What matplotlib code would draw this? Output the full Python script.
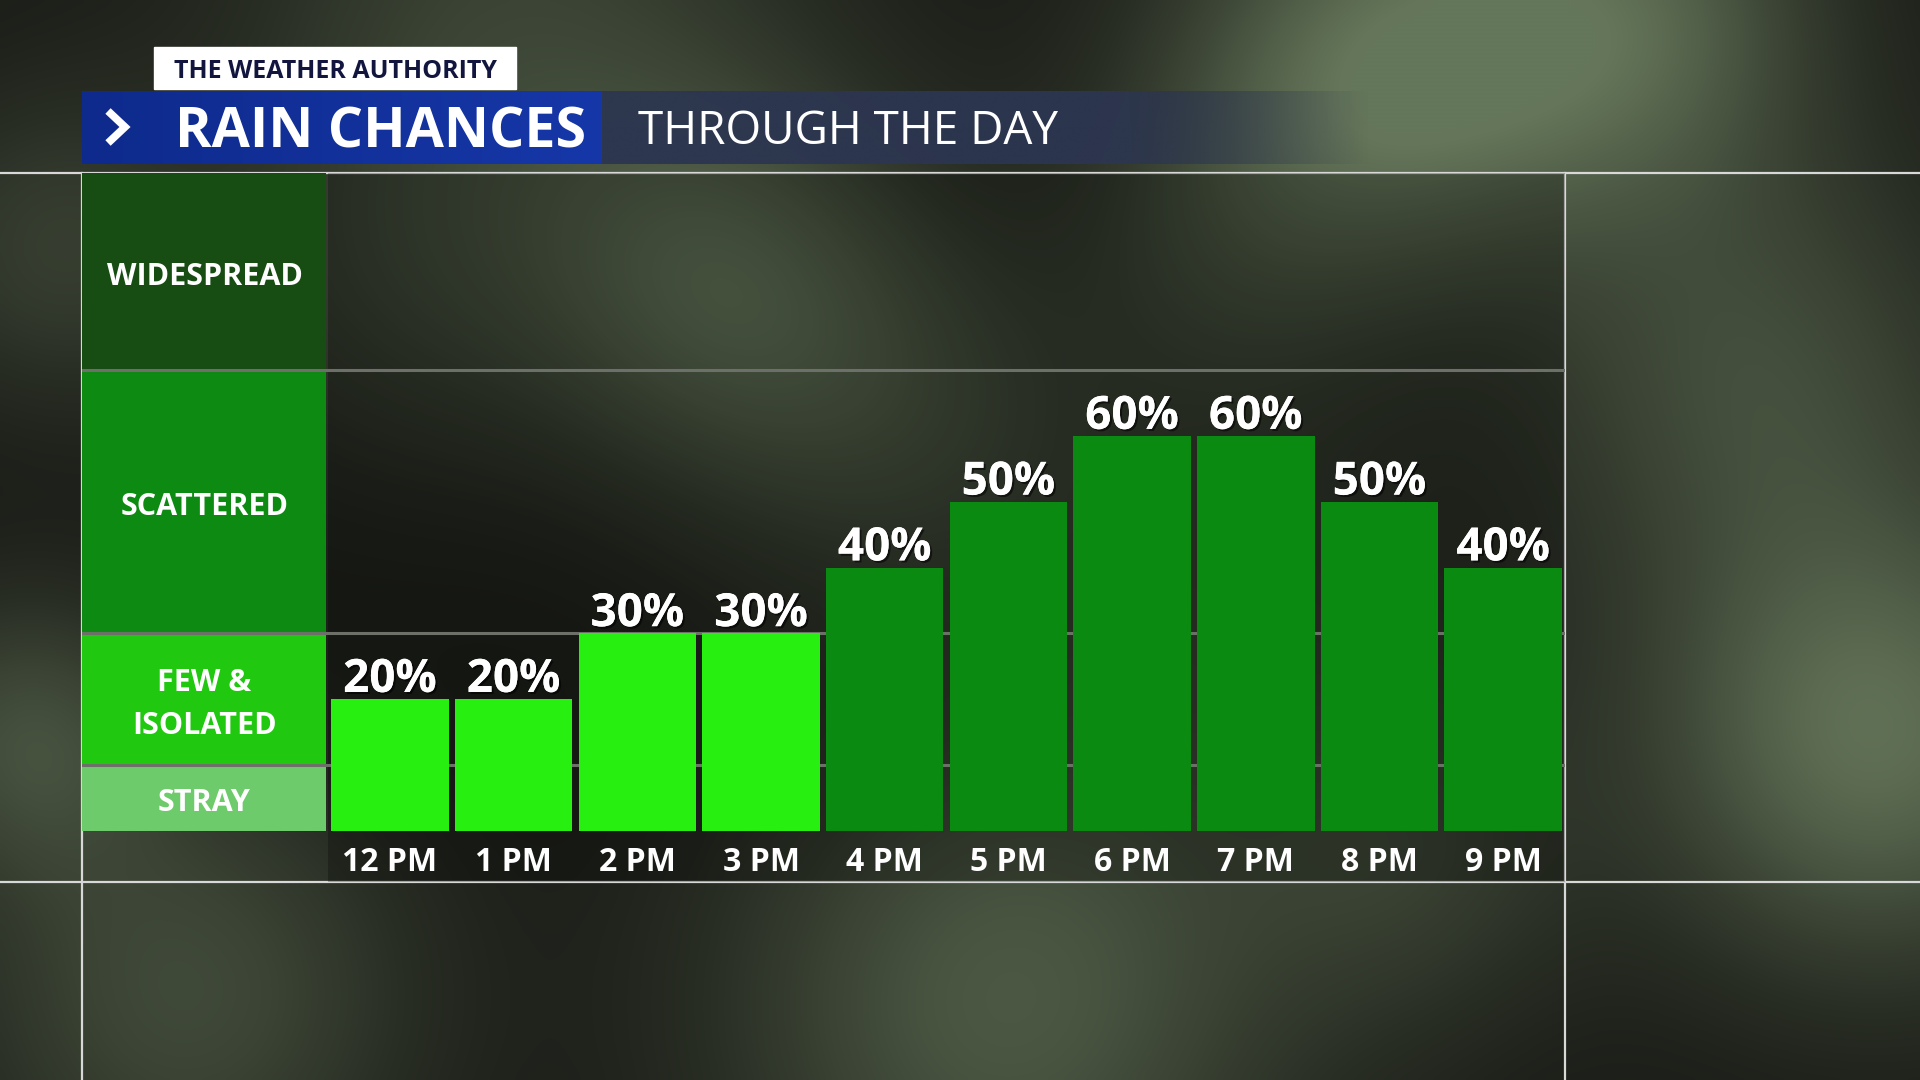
import numpy as np
import matplotlib
matplotlib.use("Agg")
import matplotlib.pyplot as plt
import matplotlib.patheffects as pe
from matplotlib.patches import Rectangle
from matplotlib.colors import to_rgb

plt.rcParams["font.family"] = ["Open Sans", "DejaVu Sans"]

# data
hours = ["12 PM", "1 PM", "2 PM", "3 PM", "4 PM", "5 PM", "6 PM", "7 PM", "8 PM", "9 PM"]
chances = [20, 20, 30, 30, 40, 50, 60, 60, 50, 40]

band_names = ["STRAY", "FEW &\nISOLATED", "SCATTERED", "WIDESPREAD"]
band_lo = [0, 10, 30, 70]
band_hi = [10, 30, 70, 100]
band_colors = ["#6ecb6b", "#20c80f", "#0d8a12", "#174c12"]
bar_bright = "#27f010"
bar_dark = "#0b8a12"

W, H = 1920, 1080
fig = plt.figure(figsize=(19.2, 10.8), dpi=100)

# ---- blurred photo-like background ----
bg = fig.add_axes([0, 0, 1, 1])
bg.set_axis_off()
gy, gx = np.mgrid[0:270, 0:480]
xx = gx / 480.0 * 1568
yy = gy / 270.0 * 882
light = np.zeros_like(xx, dtype=float)
blobs = [(1130, 60, 120, 0.9), (1330, 10, 110, 0.7), (580, 230, 110, 0.6),
         (720, 330, 120, 0.4), (1430, 300, 130, 0.5), (1530, 600, 130, 0.9),
         (820, 820, 160, 0.65), (150, 810, 130, 0.5), (20, 600, 80, 0.5),
         (420, 10, 160, 0.4), (1000, 480, 150, 0.25), (330, 240, 120, 0.25),
         (1150, 700, 100, 0.3), (40, 200, 90, 0.35), (1000, 200, 100, 0.25)]
for cx, cy, r, a in blobs:
    light += a * np.exp(-((xx - cx) ** 2 + (yy - cy) ** 2) / (2 * r ** 2))
light = np.clip(light, 0, 1)
dark = np.array(to_rgb("#1a1c17"))
lite = np.array(to_rgb("#65765a"))
img = dark[None, None, :] * (1 - light[..., None]) + lite[None, None, :] * light[..., None]
bg.imshow(img, extent=[0, W, H, 0], aspect="auto", interpolation="bicubic")
bg.set_xlim(0, W)
bg.set_ylim(H, 0)

# ---- header ----
bg.add_patch(Rectangle((154, 47), 362, 42, color="white", zorder=3))
bg.text(335, 78, "THE WEATHER AUTHORITY", color="#12163f", fontsize=18,
        fontweight="bold", ha="center", va="baseline", zorder=4)

grad = np.linspace(0, 1, 200)
blue = np.array(to_rgb("#0e2a8c"))[None, :] * (1 - grad[:, None]) + np.array(to_rgb("#1637a8"))[None, :] * grad[:, None]
bg.imshow(blue[None, :, :], extent=[82, 602, 164, 91], aspect="auto", zorder=3)
slate = np.zeros((1, 300, 4))
slate[..., :3] = to_rgb("#2c3650")
fade = np.ones(300)
fade[200:] = np.linspace(1, 0, 100)
slate[0, :, 3] = 0.95 * fade
bg.imshow(slate, extent=[602, 1370, 164, 91], aspect="auto", zorder=3)
bg.plot([108, 125, 108], [111, 127, 143], color="white", lw=5.5,
        solid_joinstyle="miter", solid_capstyle="butt", zorder=4)
bg.text(175, 148, "RAIN CHANCES", color="white", fontsize=40, fontweight="bold",
        ha="left", va="baseline", zorder=4)
bg.text(638, 144, "THROUGH THE DAY", color="white", fontsize=33,
        ha="left", va="baseline", zorder=4)

# frame lines
frame_c = "#d8d8d8"
bg.plot([0, W], [173, 173], color=frame_c, lw=1.6, zorder=2)
bg.plot([0, W], [882, 882], color=frame_c, lw=1.6, zorder=2)
bg.plot([82, 82], [173, H], color=frame_c, lw=1.6, zorder=2)
bg.plot([1565, 1565], [173, H], color=frame_c, lw=1.6, zorder=2)

# ---- chart ----
ax = fig.add_axes([82 / W, (H - 882) / H, (1565 - 82) / W, (882 - 173) / H])
ax.set_facecolor("none")
ax.set_xlim(-1.99, 10)
ax.set_ylim(-7.8, 100)
ax.set_axis_off()

ax.add_patch(Rectangle((0, -7.8), 10, 107.8, color="black", alpha=0.25, lw=0, zorder=0))

for name, lo, hi, c in zip(band_names, band_lo, band_hi, band_colors):
    ax.add_patch(Rectangle((-1.99, lo), 1.97, hi - lo, color=c, lw=0, zorder=1))
    ax.text(-1.0, (lo + hi) / 2 - 0.8, name, color="white", fontsize=22, fontweight="bold",
            ha="center", va="center", linespacing=1.55, zorder=5)
for lo in band_lo[1:]:
    ax.axhline(lo, color="#6d6f69", lw=2.2, zorder=2)

x = np.arange(len(hours)) + 0.5
colors = [bar_bright if v <= 30 else bar_dark for v in chances]
ax.bar(x, chances, width=0.95, color=colors, zorder=3)

shadow = [pe.withSimplePatchShadow(offset=(1.5, -1.5), shadow_rgbFace="black", alpha=0.55), pe.Normal()]
for xi, v in zip(x, chances):
    ax.text(xi, v + 1.1, f"{v}%", color="white", fontsize=33, fontweight="bold",
            ha="center", va="baseline", path_effects=shadow, zorder=6)
for xi, h in zip(x, hours):
    ax.text(xi, -4.8, h, color="white", fontsize=23, fontweight="bold",
            ha="center", va="center", zorder=6)

fig.savefig("out.png", dpi=100)
